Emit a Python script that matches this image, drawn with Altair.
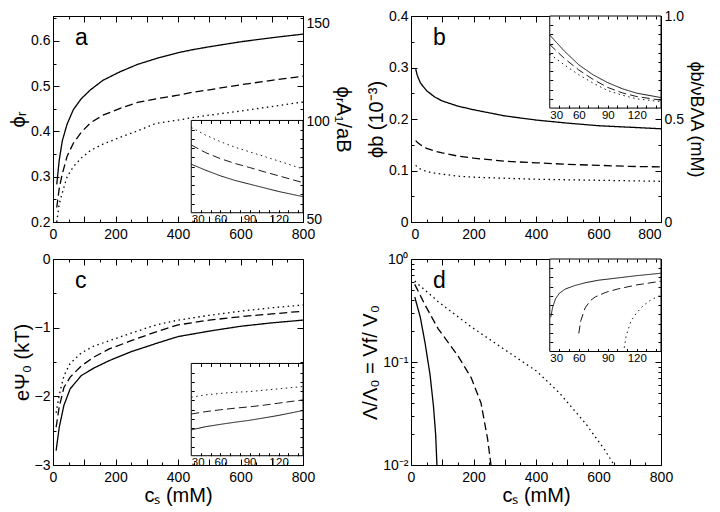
import altair as alt
import pandas as pd

FONT = "Liberation Sans"
SERIES = ["solid", "dashed", "dotted"]

# ---------------- panel a : phi_r vs c_s ----------------
A_CS = [12, 20, 30, 45, 65, 90, 120, 160, 215, 270, 330, 400, 450, 500, 600, 700, 800]
A_SOLID = [0.283, 0.337, 0.38, 0.416, 0.448, 0.472, 0.492, 0.513, 0.532, 0.548, 0.561,
           0.574, 0.581, 0.587, 0.598, 0.607, 0.615]
A_DASHED = [0.232, 0.275, 0.307, 0.345, 0.374, 0.398, 0.419, 0.436, 0.451, 0.464, 0.472,
            0.48, 0.487, 0.492, 0.503, 0.513, 0.522]
A_DOTTED = [0.2, 0.24, 0.265, 0.3, 0.322, 0.341, 0.358, 0.372, 0.387, 0.401, 0.418,
            0.425, 0.431, 0.436, 0.445, 0.455, 0.465]
# inset a : phi_r A1 / aB
IN_X = [30, 45, 60, 75, 90, 105, 120, 145]
IA_SOLID = [76.3, 73, 70, 67.5, 65.5, 63.5, 61.5, 58.7]
IA_DASHED = [86.7, 82.5, 79.3, 76.7, 74.5, 72.2, 70, 66.3]
IA_DOTTED = [96.2, 92, 88.5, 85.5, 83, 80.5, 78, 73.7]

# ---------------- panel b : phi_b vs c_s ----------------
B_CS = [15, 20, 30, 50, 75, 100, 150, 200, 300, 400, 500, 600, 700, 800]
B_SOLID = [0.297, 0.285, 0.27, 0.255, 0.243, 0.235, 0.225, 0.218, 0.206, 0.198, 0.192,
           0.187, 0.184, 0.181]
B_DASHED = [0.158, 0.155, 0.15, 0.143, 0.138, 0.134, 0.128, 0.124, 0.118, 0.115, 0.112,
            0.11, 0.108, 0.107]
B_DOTTED = [0.11, 0.107, 0.103, 0.098, 0.095, 0.093, 0.089, 0.087, 0.085, 0.083, 0.082,
            0.081, 0.08, 0.079]
IB_SOLID = [0.793, 0.62, 0.47, 0.36, 0.276, 0.21, 0.162, 0.114]
IB_DASHED = [0.69, 0.54, 0.414, 0.31, 0.224, 0.165, 0.125, 0.086]
IB_DOTTED = [0.586, 0.47, 0.362, 0.27, 0.19, 0.14, 0.1, 0.07]

# ---------------- panel c : e Psi_0 vs c_s ----------------
C_CS = [10, 20, 35, 55, 90, 130, 180, 250, 330, 400, 500, 600, 700, 800]
C_SOLID = [-2.79, -2.45, -2.13, -1.89, -1.70, -1.59, -1.48, -1.35, -1.23, -1.13, -1.05,
           -0.98, -0.93, -0.89]
C_DASHED = [-2.45, -2.15, -1.87, -1.72, -1.56, -1.43, -1.31, -1.19, -1.06, -0.96, -0.89,
            -0.84, -0.8, -0.76]
C_DOTTED = [-2.24, -1.98, -1.7, -1.52, -1.37, -1.27, -1.19, -1.08, -0.96, -0.89, -0.82,
            -0.76, -0.71, -0.67]
IC_SOLID = [0.28, 0.315, 0.34, 0.363, 0.384, 0.41, 0.437, 0.49]
IC_DASHED = [0.452, 0.478, 0.498, 0.515, 0.53, 0.548, 0.57, 0.605]
IC_DOTTED = [0.634, 0.66, 0.675, 0.688, 0.695, 0.71, 0.725, 0.75]

# ---------------- panel d : Lambda/Lambda0 vs c_s (log) ----------------
D_SOLID_X = [12, 30, 45, 61, 72, 79, 83]
D_SOLID_Y = [0.428, 0.27, 0.153, 0.075, 0.037, 0.0195, 0.01]
D_DASHED_X = [12, 45, 87, 150, 193, 224, 245, 256]
D_DASHED_Y = [0.567, 0.358, 0.21, 0.115, 0.07, 0.04, 0.018, 0.01]
D_DOTTED_X = [12, 87, 193, 298, 403, 475, 560, 620, 650]
D_DOTTED_Y = [0.61, 0.385, 0.219, 0.133, 0.081, 0.05, 0.025, 0.014, 0.01]
ID_SOLID_X = [31, 33, 36, 40, 46, 55, 66.5, 80, 100, 120, 145]
ID_SOLID_Y = [0.37, 0.48, 0.57, 0.63, 0.675, 0.71, 0.743, 0.77, 0.795, 0.82, 0.846]
ID_DASHED_X = [60, 62, 66.5, 72, 77, 88, 100, 120, 145]
ID_DASHED_Y = [0.195, 0.33, 0.47, 0.55, 0.59, 0.64, 0.675, 0.72, 0.76]
ID_DOTTED_X = [107, 109, 114, 120, 127, 135, 145]
ID_DOTTED_Y = [0.04, 0.17, 0.33, 0.42, 0.5, 0.56, 0.61]


def long(pairs):
    rows = []
    for s, (xs, ys) in zip(SERIES, pairs):
        for x, y in zip(xs, ys):
            rows.append({"x": x, "y": y, "s": s})
    return pd.DataFrame(rows)


DUMMY = pd.DataFrame({"d": [0]})
W, H = 250, 206

MAIN_DASH = alt.Scale(domain=SERIES, range=[[1, 0], [8, 4], [1.5, 3.5]])
INSET_DASH = alt.Scale(domain=SERIES, range=[[1, 0], [4, 2.5], [1, 2]])


def tick_axis(orient, offset, values, size, z=0):
    return alt.Axis(orient=orient, offset=offset, values=values, tickSize=size, ticks=True,
                    labels=False, domain=False, grid=False, title=None, tickColor="black",
                    tickWidth=1, zindex=z)


def main_layers(df, xscale, yscale, x_axis, y_axis, xminor, xmajor, yminor, ymajor):
    def X(a):
        return alt.X("x:Q", scale=xscale, axis=a)

    def Y(a):
        return alt.Y("y:Q", scale=yscale, axis=a)

    lines = alt.Chart(df).mark_line(color="black", strokeWidth=1.3, clip=True).encode(
        x=X(x_axis), y=Y(y_axis),
        strokeDash=alt.StrokeDash("s:N", scale=MAIN_DASH, legend=None))
    ghost = alt.Chart(df).mark_line(strokeOpacity=0, clip=True)
    out = [lines]
    for size, xv, yv in [(3, xminor, yminor), (6, xmajor, ymajor)]:
        out.append(ghost.encode(x=X(tick_axis("bottom", -size, xv, size)),
                                y=Y(tick_axis("left", -size, yv, size))))
        out.append(ghost.encode(x=X(tick_axis("top", -size, xv, size)),
                                y=Y(tick_axis("right", -size, yv, size))))
    return out


def inset_layers(df, fx0, fy0, fy1, ydom, yticks):
    ix0, ix1 = fx0 * W, W
    iy0, iy1 = fy0 * H, fy1 * H
    xs = alt.Scale(domain=[30, 145], range=[ix0, ix1], nice=False, zero=False)
    ys = alt.Scale(domain=ydom, range=[iy1, iy0], nice=False, zero=False)
    frame = alt.Chart(DUMMY).mark_rect(fill="white", stroke="black", strokeWidth=1).encode(
        x=alt.value(ix0), x2=alt.value(ix1), y=alt.value(iy0), y2=alt.value(iy1))
    lines = alt.Chart(df).mark_line(color="black", strokeWidth=0.9, clip=True).encode(
        x=alt.X("x:Q", scale=xs, axis=alt.Axis(
            orient="bottom", offset=iy1 - H, values=[30, 60, 90, 120], labelFontSize=11.5,
            ticks=False, domain=False, grid=False, title=None, labelFlush=True,
            labelPadding=1, zindex=1, labelOverlap=False)),
        y=alt.Y("y:Q", scale=ys, axis=None),
        strokeDash=alt.StrokeDash("s:N", scale=INSET_DASH, legend=None))
    ghost = alt.Chart(df).mark_line(strokeOpacity=0, clip=True)
    s = 3
    xv = list(range(40, 145, 10))
    t1 = ghost.encode(
        x=alt.X("x:Q", scale=xs, axis=tick_axis("bottom", iy1 - s - H, xv, s, 1)),
        y=alt.Y("y:Q", scale=ys, axis=tick_axis("left", -(ix0 + s), yticks, s, 1)))
    t2 = ghost.encode(
        x=alt.X("x:Q", scale=xs, axis=tick_axis("top", -(iy0 + s), xv, s, 1)),
        y=alt.Y("y:Q", scale=ys, axis=tick_axis("right", ix1 - s - W, yticks, s, 1)))
    return [frame, lines, t1, t2]


def letter(t):
    return alt.Chart(DUMMY).mark_text(text=t, fontSize=23, font=FONT, align="left",
                                      baseline="middle", color="black").encode(
        x=alt.value(22), y=alt.value(22))


def xlab_axis(title=None, flush=False):
    kw = dict(orient="bottom", values=[0, 200, 400, 600, 800], ticks=False, domain=False,
              grid=False, labelFlush=flush, labelOverlap=False, labelPadding=5,
              format="d")
    if title:
        return alt.Axis(title=title, titlePadding=1, **kw)
    return alt.Axis(title=None, **kw)


def ylab_axis(values, title, expr, orient="left", pad=3, tpad=2, tsize=20):
    return alt.Axis(orient=orient, values=values, title=title, labelExpr=expr, ticks=False,
                    domain=False, grid=False, labelOverlap=False, labelPadding=pad,
                    titlePadding=tpad, labelFlush=False, titleFontSize=tsize)


XS = alt.Scale(domain=[0, 800], nice=False, zero=False)
X_MINOR = list(range(0, 801, 50))
X_MAJOR = list(range(0, 801, 100))

# ---- panel a
dfa = long([(A_CS, A_SOLID), (A_CS, A_DASHED), (A_CS, A_DOTTED)])
ysa = alt.Scale(domain=[0.2, 0.655], nice=False, zero=False)
la = main_layers(dfa, XS, ysa, xlab_axis(),
                 ylab_axis([0.2, 0.3, 0.4, 0.5, 0.6], "ϕᵣ", "format(datum.value, '.1f')"),
                 X_MINOR, X_MAJOR, [round(0.2 + 0.05 * i, 2) for i in range(10)],
                 [0.2, 0.3, 0.4, 0.5, 0.6])
ra = alt.Chart(dfa).mark_line(strokeOpacity=0, clip=True).encode(
    x=alt.X("x:Q", scale=XS, axis=None),
    y=alt.Y("y:Q", scale=alt.Scale(domain=[48.5, 153.9], nice=False, zero=False),
            axis=ylab_axis([50, 100, 150], "ϕᵣA₁/aB", "format(datum.value, 'd')",
                           orient="right", pad=3, tpad=3)))
ia = inset_layers(long([(IN_X, IA_SOLID), (IN_X, IA_DASHED), (IN_X, IA_DOTTED)]),
                  0.553, 0.507, 0.955, [50, 100], list(range(55, 100, 5)))
panel_a = alt.layer(*la, ra, *ia, letter("a")).resolve_scale(
    x="independent", y="independent").properties(width=W, height=H)

# ---- panel b
dfb = long([(B_CS, B_SOLID), (B_CS, B_DASHED), (B_CS, B_DOTTED)])
ysb = alt.Scale(domain=[0, 0.4], nice=False, zero=False)
lb = main_layers(dfb, XS, ysb, xlab_axis(flush=True),
                 ylab_axis([0, 0.1, 0.2, 0.3, 0.4], "ϕb (10⁻³)",
                           "datum.value == 0 ? '0' : format(datum.value, '.1f')"),
                 X_MINOR, X_MAJOR, [round(0.05 * i, 2) for i in range(9)],
                 [0, 0.1, 0.2, 0.3, 0.4])
rb = alt.Chart(dfb).mark_line(strokeOpacity=0, clip=True).encode(
    x=alt.X("x:Q", scale=XS, axis=None),
    y=alt.Y("y:Q", scale=alt.Scale(domain=[0, 1.0], nice=False, zero=False),
            axis=ylab_axis([0, 0.5, 1.0], "ϕb/νBΛA (mM)",
                           "datum.value == 0 ? '0' : format(datum.value, '.1f')",
                           orient="right", pad=3, tpad=3, tsize=18)))
ib = inset_layers(long([(IN_X, IB_SOLID), (IN_X, IB_DASHED), (IN_X, IB_DOTTED)]),
                  0.555, 0.0, 0.447, [0, 1], [round(0.1 * i, 1) for i in range(1, 10)])
panel_b = alt.layer(*lb, rb, *ib, letter("b")).resolve_scale(
    x="independent", y="independent").properties(width=W, height=H)

# ---- panel c
dfc = long([(C_CS, C_SOLID), (C_CS, C_DASHED), (C_CS, C_DOTTED)])
ysc = alt.Scale(domain=[-3, 0], nice=False, zero=False)
lc = main_layers(dfc, XS, ysc, xlab_axis("cₛ (mM)"),
                 ylab_axis([-3, -2, -1, 0], "eΨ₀ (kT)", "format(datum.value, 'd')"),
                 X_MINOR, X_MAJOR, [-2.5, -2, -1.5, -1, -0.5], [-2, -1])
ic = inset_layers(long([(IN_X, IC_SOLID), (IN_X, IC_DASHED), (IN_X, IC_DOTTED)]),
                  0.553, 0.507, 0.955, [0, 1], [round(0.1 * i, 1) for i in range(1, 10)])
panel_c = alt.layer(*lc, *ic, letter("c")).resolve_scale(
    x="independent", y="independent").properties(width=W, height=H)

# ---- panel d
dfd = long([(D_SOLID_X, D_SOLID_Y), (D_DASHED_X, D_DASHED_Y), (D_DOTTED_X, D_DOTTED_Y)])
ysd = alt.Scale(type="log", domain=[0.01, 1], nice=False, zero=False)
LOG_MINOR = [round(k * 0.01, 2) for k in range(2, 10)] + [round(k * 0.1, 1) for k in range(2, 10)]
ld = main_layers(dfd, XS, ysd, xlab_axis("cₛ (mM)"),
                 ylab_axis([0.01, 0.1, 1], "Λ/Λ₀ = Vf/ V₀",
                           "datum.value >= 1 ? '10⁰' : (datum.value >= 0.1 ? '10⁻¹' : '10⁻²')"),
                 X_MINOR, X_MAJOR, LOG_MINOR, [0.1])
idd = inset_layers(long([(ID_SOLID_X, ID_SOLID_Y), (ID_DASHED_X, ID_DASHED_Y),
                         (ID_DOTTED_X, ID_DOTTED_Y)]),
                   0.555, 0.0, 0.449, [0, 1], [round(0.1 * i, 1) for i in range(1, 10)])
panel_d = alt.layer(*ld, *idd, letter("d")).resolve_scale(
    x="independent", y="independent").properties(width=W, height=H)

chart = alt.concat(panel_a, panel_b, panel_c, panel_d, columns=2,
                   spacing={"row": 37, "column": 108}, bounds="flush").properties(
    padding={"left": 0, "top": 0, "right": 6, "bottom": 0}
).configure_view(stroke="black", strokeWidth=1).configure_axis(
    labelFont=FONT, titleFont=FONT, labelColor="black", titleColor="black",
    titleFontWeight="normal", labelFontSize=14, titleFontSize=20)

chart.save("out.html", embed_options={"renderer": "svg", "actions": False})
